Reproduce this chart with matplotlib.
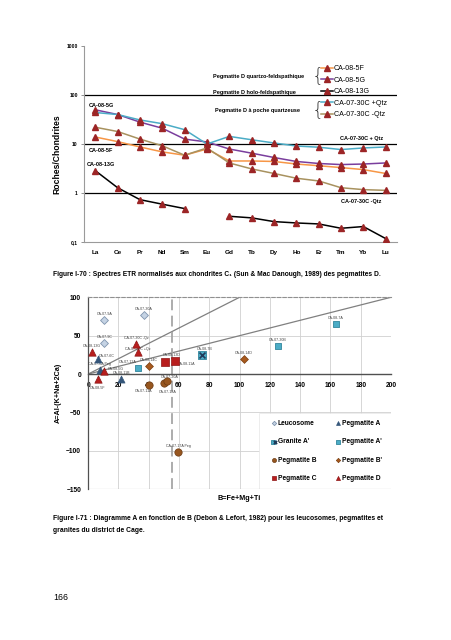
import numpy as np
import matplotlib
matplotlib.use('Agg')
import matplotlib.pyplot as plt
from matplotlib.patches import Rectangle
from matplotlib.legend_handler import HandlerTuple
from matplotlib.ticker import NullLocator

plt.rcParams['font.family'] = ['Liberation Sans', 'DejaVu Sans']

# ---- Figure I-70 : REE spectra ----
elements = ['La', 'Ce', 'Pr', 'Nd', 'Sm', 'Eu', 'Gd', 'Tb', 'Dy', 'Ho', 'Er', 'Tm', 'Yb', 'Lu']
ca_08_5f = [13.9, 11.2, 8.7, 6.9, 5.9, 7.9, 4.5, 4.5, 4.4, 3.9, 3.6, 3.3, 3.0, 2.5]
ca_08_5g = [50, 40, 28, 21, 12.6, 11, 7.9, 6.5, 5.3, 4.4, 4.0, 3.8, 3.9, 4.1]
ca_08_13g = [2.86, 1.28, 0.73, 0.59, 0.48, np.nan, 0.334, 0.31, 0.26, 0.244, 0.233, 0.19, 0.206, 0.117]
ca_07_30c_pqtz = [44, 40, 31, 26, 19.6, 10, 14.3, 12.2, 10.5, 9.1, 8.6, 7.7, 8.3, 8.7]
ca_07_30c_mqtz = [22, 18, 12.6, 9.2, 5.9, 8.3, 4.1, 3.1, 2.5, 2.0, 1.76, 1.28, 1.17, 1.13]

# ---- Figure I-71 : A-B diagram (Debon & Lefort) ----
leuco_b = [10.8, 36.8, 10.8]
leuco_a = [70.3, 77.2, 39.9]
leuco_names = ['CA-07-9A', 'CA-07-30A', 'CA-07-9C']

pegA_b = [6.8, 7.7, 21.8]
pegA_a = [19.5, 5.6, -6.1]
pegA_names = ['CA-07-6C', 'CA-07-6A Peg', 'CA-08-11B']

granA2_b = [75.0]
granA2_a = [24.7]
granA2_names = ['CA-08-7B']

pegA2_b = [33.0, 125.4, 163.5]
pegA2_a = [8.2, 36.4, 64.6]
pegA2_names = ['CA-07-12A', 'CA-07-30B', 'CA-08-7A']

pegB_b = [39.9, 50.0, 52.2, 59.4]
pegB_a = [-14.3, -11.7, -8.7, -102.0]
pegB_names = ['CA-07-11A', 'CA-07-18A', 'CA-07-20A', 'CA-07-17A Peg']

pegB2_b = [39.9, 102.8]
pegB2_a = [10.4, 19.5]
pegB2_names = ['CA-08-14C', 'CA-08-14D']

pegC_b = [50.6, 57.4]
pegC_a = [15.1, 16.9]
pegC_names = ['CA-08-13D', 'CA-08-11A']

pegD_b = [2.4, 31.9, 32.6, 10.2, 6.4]
pegD_a = [29.0, 39.4, 28.6, 3.9, -6.5]
pegD_names = ['CA-08-13G', 'CA-07-30C -Qz', 'CA-07-30C +Qz', 'CA-08-5G', 'CA-08-5F']

# label offsets in pixels (dx, dy)
label_offsets = {
    'CA-07-30C +Qz': (0, 3), 'CA-07-6C': (8, 3), 'CA-08-5G': (12, 2),
    'CA-08-5F': (0, -9), 'CA-07-12A': (-10, 6), 'CA-08-13D': (7, 7),
    'CA-08-11A': (12, -3), 'CA-08-7B': (3, 6), 'CA-07-20A': (3, 4),
    'CA-07-11A': (-5, -6), 'CA-07-18A': (4, -9),
}

fig = plt.figure(figsize=(4.52, 6.40), dpi=100)

# ================= chart 1 =================
ax1 = fig.add_axes([0.186, 0.622, 0.692, 0.306])
x = np.arange(len(elements))
tri_col = '#9C2526'
series = [
    (ca_08_5f, '#F79646', 'CA-08-5F'),
    (ca_08_5g, '#7A3E9D', 'CA-08-5G'),
    (ca_08_13g, 'black', 'CA-08-13G'),
    (ca_07_30c_pqtz, '#4BACC6', 'CA-07-30C +Qtz'),
    (ca_07_30c_mqtz, '#A8925F', 'CA-07-30C -Qtz'),
]
handles = []
for vals, col, lab in series:
    h, = ax1.plot(x, vals, color=col, lw=1.1, marker='^', ms=4.6,
                  mfc=tri_col, mec=tri_col, label=lab, zorder=3)
    handles.append(h)

ax1.set_yscale('log')
ax1.set_ylim(0.1, 1000)
ax1.set_xlim(-0.5, 13.5)
for yv in [1, 10, 100]:
    ax1.axhline(yv, color='black', lw=0.9, zorder=1)
ax1.set_yticks([0.1, 1, 10, 100, 1000], ['0,1', '1', '10', '100', '1000'])
ax1.yaxis.set_minor_locator(NullLocator())
ax1.set_xticks(x, elements)
ax1.tick_params(axis='x', length=0, pad=6, labelsize=4.6)
ax1.tick_params(axis='y', length=2.5, width=0.6, pad=2, labelsize=3.6, color='#808080')
for t in ax1.get_xticklabels() + ax1.get_yticklabels():
    t.set_fontweight('bold')
for s in ['top', 'right']:
    ax1.spines[s].set_visible(False)
for s in ['left', 'bottom']:
    ax1.spines[s].set_color('#9A9A9A')
    ax1.spines[s].set_linewidth(0.8)
ax1.set_ylabel('Roches/Chondrites', fontsize=6.2, fontweight='bold')
ax1.yaxis.set_label_coords(-0.072, 0.45)

leg1 = ax1.legend(handles=handles, loc='upper left', bbox_to_anchor=(0.757, 0.902),
                  frameon=False, fontsize=5.1, handlelength=1.7, handletextpad=0.15,
                  labelspacing=0.64, borderpad=0, borderaxespad=0)

ann_kw = dict(transform=ax1.transAxes, fontsize=4.0, fontweight='bold', va='center')
ax1.text(0.016, 0.699, 'CA-08-5G', **ann_kw)
ax1.text(0.016, 0.466, 'CA-08-5F', **ann_kw)
ax1.text(0.010, 0.393, 'CA-08-13G', **ann_kw)
ax1.text(0.818, 0.529, 'CA-07-30C + Qtz', **ann_kw)
ax1.text(0.822, 0.206, 'CA-07-30C -Qtz', **ann_kw)
ax1.text(0.412, 0.847, 'Pegmatite D quartzo-feldspathique', **ann_kw)
ax1.text(0.412, 0.765, 'Pegmatite D holo-feldspathique', **ann_kw)
ax1.text(0.418, 0.673, 'Pegmatite D à poche quartzeuse', **ann_kw)
brace_kw = dict(transform=ax1.transAxes, fontsize=14, fontweight='light',
                va='center', ha='center', color='#333333', family='DejaVu Sans')
ax1.text(0.748, 0.850, '{', **brace_kw)
ax1.text(0.748, 0.676, '{', **brace_kw)

fig.text(53 / 452, 1 - 274 / 640,
         'Figure I-70 : Spectres ETR normalisés aux chondrites C\u2081 (Sun & Mac Danough, 1989) des pegmatites D.',
         fontsize=4.75, fontweight='bold', va='center', ha='left')

# ================= chart 2 =================
ax2 = fig.add_axes([0.195, 0.2355, 0.670, 0.300])
ax2.set_xlim(0, 200)
ax2.set_ylim(-150, 100)
ax2.set_xticks(np.arange(0, 201, 20))
ax2.set_yticks(np.arange(-150, 101, 50))
ax2.set_axisbelow(True)
ax2.grid(True, color='#D0D0D0', lw=0.6)

# reference lines from origin and dashed vertical
ax2.plot([0, 100], [0, 100], color='#808080', lw=0.9, zorder=2)
ax2.plot([0, 200], [0, 100], color='#808080', lw=0.9, zorder=2)
ax2.axvline(55.7, color='#A6A6A6', lw=1.3, ls=(0, (6, 3)), zorder=2)
ax2.axhline(-150, color='#A0A0A0', lw=0.8, zorder=2)

# legend background area
ax2.add_patch(Rectangle((0.565, 0.0), 0.435, 0.398, transform=ax2.transAxes,
                        facecolor='white', edgecolor='#E6E6E6', lw=0.5, zorder=1))

groups = [
    ('Leucosome', leuco_b, leuco_a, leuco_names, dict(marker='D', s=16, c='#C5D3E4', edgecolors='#8095AE', linewidths=0.6)),
    ('Pegmatite A', pegA_b, pegA_a, pegA_names, dict(marker='^', s=26, c='#35567A', edgecolors='#35567A', linewidths=0.5)),
    ("Pegmatite A'", pegA2_b, pegA2_a, pegA2_names, dict(marker='s', s=24, c='#4BACC6', edgecolors='#31859C', linewidths=0.6)),
    ('Pegmatite B', pegB_b, pegB_a, pegB_names, dict(marker='o', s=28, c='#97561F', edgecolors='#6B3A12', linewidths=0.5)),
    ("Pegmatite B'", pegB2_b, pegB2_a, pegB2_names, dict(marker='D', s=16, c='#A85A1E', edgecolors='#7A3F12', linewidths=0.5)),
    ('Pegmatite C', pegC_b, pegC_a, pegC_names, dict(marker='s', s=30, c='#B81E1E', edgecolors='#8C1515', linewidths=0.5)),
    ('Pegmatite D', pegD_b, pegD_a, pegD_names, dict(marker='^', s=28, c='#B81E1E', edgecolors='#8C1515', linewidths=0.5)),
]
leg_handles = {}
for name, bx, ay, names, kw in groups:
    leg_handles[name] = ax2.scatter(bx, ay, zorder=4, **kw)
    for xi, yi, nm in zip(bx, ay, names):
        dx, dy = label_offsets.get(nm, (0, 6))
        ax2.annotate(nm, (xi, yi), xytext=(dx, dy), textcoords='offset pixels',
                     fontsize=2.6, color='#404040', ha='center', va='center', zorder=3)

# Granite A': teal square with dark cross
g_sq = ax2.scatter(granA2_b, granA2_a, marker='s', s=26, c='#4BACC6', edgecolors='#31859C', linewidths=0.6, zorder=4)
g_x = ax2.scatter(granA2_b, granA2_a, marker='x', s=18, c='#1F3B5A', linewidths=1.2, zorder=5)
for xi, yi, nm in zip(granA2_b, granA2_a, granA2_names):
    dx, dy = label_offsets.get(nm, (0, 6))
    ax2.annotate(nm, (xi, yi), xytext=(dx, dy), textcoords='offset pixels',
                 fontsize=2.6, color='#404040', ha='center', va='center', zorder=3)
leg_handles["Granite A'"] = (g_sq, g_x)

order = ['Leucosome', "Granite A'", 'Pegmatite B', 'Pegmatite C',
         'Pegmatite A', "Pegmatite A'", "Pegmatite B'", 'Pegmatite D']
leg2 = ax2.legend([leg_handles[k] for k in order], order, ncol=2, loc='upper left',
                  bbox_to_anchor=(0.607, 0.36), frameon=False,
                  prop={'weight': 'bold', 'size': 4.8}, handlelength=0.6, handletextpad=0.3,
                  labelspacing=1.7, columnspacing=3.0, borderpad=0, borderaxespad=0,
                  markerscale=0.55, handler_map={tuple: HandlerTuple(ndivide=None, pad=0)})

ax2.spines['bottom'].set_position(('data', 0))
ax2.spines['bottom'].set_color('#505050')
ax2.spines['bottom'].set_linewidth(1.0)
ax2.spines['left'].set_color('#505050')
ax2.spines['left'].set_linewidth(0.9)
ax2.spines['top'].set_linestyle((0, (3, 2)))
ax2.spines['top'].set_color('#909090')
ax2.spines['top'].set_linewidth(0.8)
ax2.spines['right'].set_visible(False)
ax2.tick_params(axis='both', length=0, labelsize=4.8)
ax2.tick_params(axis='x', pad=6)
ax2.tick_params(axis='y', pad=5)
for t in ax2.get_xticklabels() + ax2.get_yticklabels():
    t.set_fontweight('bold')
ax2.set_xlabel('B=Fe+Mg+Ti', fontsize=5.2, fontweight='bold')
ax2.xaxis.set_label_coords(0.5, -0.03)
ax2.set_ylabel('A=Al-(K+Na+2Ca)', fontsize=5.2, fontweight='bold')
ax2.yaxis.set_label_coords(-0.087, 0.5)

fig.text(53 / 452, 1 - 518 / 640,
         'Figure I-71 : Diagramme A en fonction de B (Debon & Lefort, 1982) pour les leucosomes, pegmatites et',
         fontsize=4.85, fontweight='bold', va='center', ha='left')
fig.text(53 / 452, 1 - 530 / 640, 'granites du district de Cage.',
         fontsize=4.85, fontweight='bold', va='center', ha='left')
fig.text(53 / 452, 1 - 597 / 640, '166', fontsize=6.3, va='center', ha='left')

fig.savefig('out.png', dpi=100)
